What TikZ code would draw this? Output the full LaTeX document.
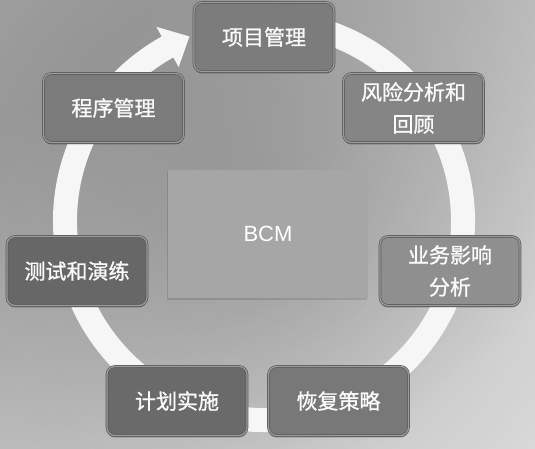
\documentclass[tikz,border=0pt]{standalone}
\usepackage{fontspec}
\newfontfamily\cjk[FakeBold=1]{Noto Sans CJK SC}
\newfontfamily\bcmfont{Liberation Sans}
\usetikzlibrary{shadows,fadings}
\definecolor{bgdark}{HTML}{AEAEAE}
\definecolor{bglight}{HTML}{EEEEEE}
\definecolor{ringwhite}{HTML}{F6F6F6}
\definecolor{rim}{HTML}{5A5A5A}
\definecolor{bevel}{HTML}{9C9C9C}
\definecolor{core}{HTML}{A6A6A6}
\definecolor{toneA}{HTML}{7C7C7C}
\definecolor{toneB}{HTML}{858585}
\definecolor{toneC}{HTML}{8F8F8F}
\definecolor{toneD}{HTML}{787878}
\definecolor{toneE}{HTML}{6A6A6A}
\definecolor{toneF}{HTML}{676767}
\definecolor{toneG}{HTML}{7B7B7B}
\tikzfading[name=softcircle, inner color=transparent!0, outer color=transparent!100]
\begin{document}
\begin{tikzpicture}[x=1pt, y=1pt,
  stage/.style={shape=rectangle, draw=rim, double=bevel, double distance=1.2pt,
    line width=0.7pt, rounded corners=8pt,
    minimum width=140pt, minimum height=69pt, inner sep=2pt, fill=#1,
    text=white!96!gray, align=center, font=\cjk\fontsize{21}{32}\selectfont,
    drop shadow={shadow xshift=0pt, shadow yshift=-2pt, fill=black, opacity=0.35}},
  ring/.style={draw=ringwhite, line width=24pt}]
\useasboundingbox (0,0) rectangle (535,449);
\shade[top color=bgdark, bottom color=bglight, shading angle=40] (0,0) rectangle (535,449);
\coordinate (c) at (264,228);
\fill[black, opacity=0.25, path fading=softcircle] (c) circle[radius=540];
\draw[ring] ([shift={(100:199)}]c) arc[start angle=100, end angle=-241.2, radius=199];
\fill[ringwhite] ([shift={(119:222)}]c) -- ([shift={(112:199)}]c) -- ([shift={(119:176)}]c) -- cycle;
\node[shape=rectangle, fill=core, minimum width=200pt, minimum height=128pt,
  drop shadow={shadow xshift=-1pt, shadow yshift=-2pt, fill=black, opacity=0.12},
  text=white, font=\bcmfont\fontsize{22}{26}\selectfont] (B) at (268,215) {BCM};
\node[stage=toneA] (1) at (264,412) {项目管理};
\node[stage=toneB] (2) at (413.5,341) {风险分析和\\回顾};
\node[stage=toneC] (3) at (450,178) {业务影响\\分析};
\node[stage=toneD] (4) at (338.5,48) {恢复策略};
\node[stage=toneE] (5) at (177,48) {计划实施};
\node[stage=toneF] (6) at (77,178) {测试和演练};
\node[stage=toneG] (7) at (113.5,341) {程序管理};
\end{tikzpicture}
\end{document}
